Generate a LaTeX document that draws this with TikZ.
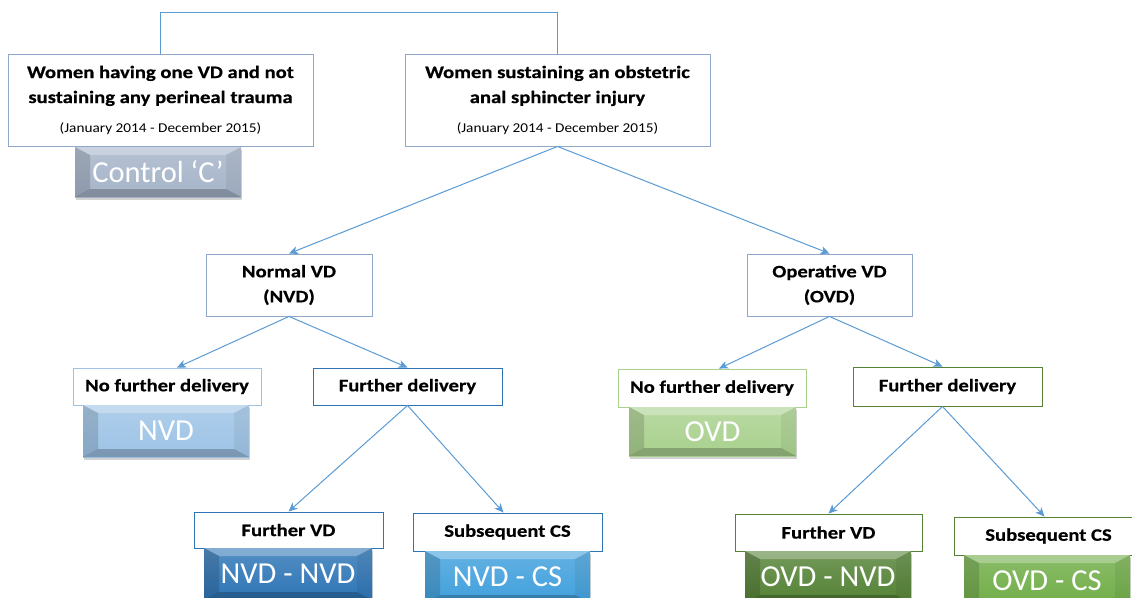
\documentclass[tikz,border=0pt]{standalone}
\usepackage{fontspec}
\setmainfont{Carlito}
\newfontfamily\lblfont[FakeStretch=1.18, BoldFeatures={FakeBold=0.6}]{Carlito}
\newfontfamily\datefont[FakeStretch=1.13]{Carlito}
\usetikzlibrary{arrows.meta,shadows}
\definecolor{conn}{RGB}{91,155,213}
\definecolor{grayb}{RGB}{143,168,200}
\definecolor{lblue}{RGB}{157,195,230}
\definecolor{dblue}{RGB}{46,117,182}
\definecolor{mblue}{RGB}{65,160,220}
\definecolor{lgreen}{RGB}{169,209,142}
\definecolor{dgreen}{RGB}{84,130,53}
\definecolor{mgreen}{RGB}{112,173,71}
\definecolor{ctrl}{RGB}{166,180,201}
\tikzset{
  conn/.style={draw=conn, line width=1pt},
  arr/.style={conn, -{Stealth[length=9pt,width=8pt,inset=2.5pt]}},
  lbox/.style={draw=#1, line width=0.9pt, fill=white, inner sep=0pt, align=center,
    font=\lblfont\bfseries\fontsize{17.5}{25}\selectfont},
  bev/.style={top color=#1!82!white, bottom color=#1, inner sep=0pt, text=white,
    font=\fontsize{30.5}{32}\selectfont,
    drop shadow={opacity=0.35, shadow xshift=1pt, shadow yshift=-3pt},
    path picture={
      \fill[white, opacity=0.28] (path picture bounding box.north west) -- (path picture bounding box.north east)
        -- ([xshift=-15pt,yshift=-8pt]path picture bounding box.north east)
        -- ([xshift=15pt,yshift=-8pt]path picture bounding box.north west) -- cycle;
      \fill[black, opacity=0.14] (path picture bounding box.north west) -- (path picture bounding box.south west)
        -- ([xshift=15pt,yshift=8pt]path picture bounding box.south west)
        -- ([xshift=15pt,yshift=-8pt]path picture bounding box.north west) -- cycle;
      \fill[black, opacity=0.06] (path picture bounding box.north east) -- (path picture bounding box.south east)
        -- ([xshift=-15pt,yshift=8pt]path picture bounding box.south east)
        -- ([xshift=-15pt,yshift=-8pt]path picture bounding box.north east) -- cycle;
      \fill[black, opacity=0.22] (path picture bounding box.south west) -- (path picture bounding box.south east)
        -- ([xshift=-15pt,yshift=8pt]path picture bounding box.south east)
        -- ([xshift=15pt,yshift=8pt]path picture bounding box.south west) -- cycle;
    }}
}
\newcommand{\datetxt}{{\datefont\mdseries\fontsize{13.5}{16}\selectfont (January 2014 - December 2015)}}
\begin{document}
\begin{tikzpicture}[x=1pt,y=-1pt]
\clip (0,0) rectangle (1132,597);
\fill[white] (0,0) rectangle (1132,597);
% top boxes
\node[lbox=grayb, minimum width=305pt, minimum height=92pt] (tl) at (160.5,100)
  {Women having one VD and not\\sustaining any perineal trauma\\[4pt]\datetxt};
\node[lbox=grayb, minimum width=305pt, minimum height=92pt] (tr) at (557.5,100)
  {Women sustaining an obstetric\\anal sphincter injury\\[4pt]\datetxt};
\node[bev=ctrl, minimum width=166pt, minimum height=50pt] (ctl) at (158,172) {Control ‘C’};
% second level
\node[lbox=grayb, minimum width=166pt, minimum height=62pt] (nvd) at (289,285) {Normal VD\\(NVD)};
\node[lbox=grayb, minimum width=165pt, minimum height=62pt] (ovd) at (829.5,285) {Operative VD\\(OVD)};
% third level left
\node[lbox=lblue, minimum width=188pt, minimum height=37pt] (nfd1) at (167,386.5) {No further delivery};
\node[bev=lblue, minimum width=166pt, minimum height=52pt] (nvdb) at (166,431) {NVD};
\node[lbox=dblue, minimum width=189pt, minimum height=37pt] (fd1) at (407.5,386.5) {Further delivery};
% third level right
\node[lbox=lgreen, minimum width=188pt, minimum height=38pt] (nfd2) at (712,388) {No further delivery};
\node[bev=lgreen, minimum width=167pt, minimum height=49pt] (ovdb) at (712.5,431.5) {OVD};
\node[lbox=dgreen, minimum width=189pt, minimum height=39pt] (fd2) at (947.5,386.5) {Further delivery};
% fourth level left
\node[lbox=dblue, minimum width=189pt, minimum height=36pt] (fvd1) at (288.5,530) {Further VD};
\node[bev=dblue, minimum width=168pt, minimum height=52pt] (nnb) at (288,574) {NVD - NVD};
\node[lbox=dblue, minimum width=189pt, minimum height=38pt] (scs1) at (507.5,532) {Subsequent CS};
\node[bev=mblue, minimum width=165pt, minimum height=52pt] (ncb) at (507.5,577) {NVD - CS};
% fourth level right
\node[lbox=dgreen, minimum width=187pt, minimum height=37pt] (fvd2) at (828.5,532.5) {Further VD};
\node[bev=dgreen, minimum width=166pt, minimum height=52pt] (onb) at (828,577) {OVD - NVD};
\node[lbox=dgreen, minimum width=189pt, minimum height=38pt] (scs2) at (1048.5,536) {Subsequent CS};
\node[bev=mgreen, minimum width=166pt, minimum height=52pt] (ocb) at (1047,581) {OVD - CS};
% connectors
\draw[conn] (tl.north) -- ++(0,-41) -| (tr.north);
\draw[arr] (tr.south) -- (nvd.north);
\draw[arr] (tr.south) -- (ovd.north);
\draw[arr] (nvd.south) -- ([xshift=10pt]nfd1.north);
\draw[arr] (nvd.south) -- (fd1.north);
\draw[arr] (ovd.south) -- ([xshift=7pt]nfd2.north);
\draw[arr] (ovd.south) -- ([xshift=-5pt]fd2.north);
\draw[arr] (fd1.south) -- (fvd1.north);
\draw[arr] (fd1.south) -- ([xshift=-4pt]scs1.north);
\draw[arr] ([xshift=-5pt]fd2.south) -- (fvd2.north);
\draw[arr] ([xshift=-5pt]fd2.south) -- ([xshift=-4pt]scs2.north);
\end{tikzpicture}
\end{document}
